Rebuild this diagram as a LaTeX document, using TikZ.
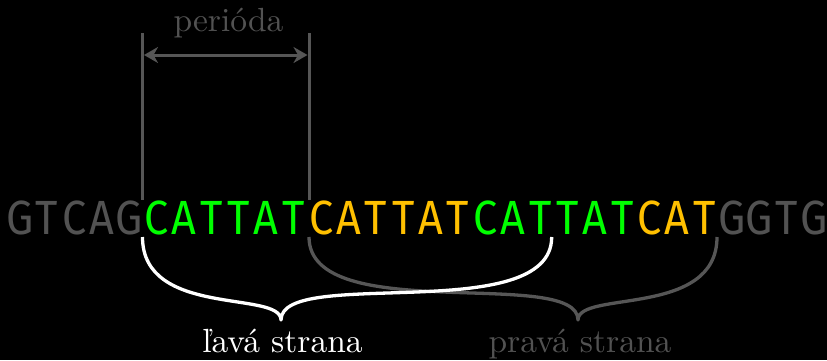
\documentclass[tikz,border=0pt]{standalone}
\usepackage{fontspec}
\newfontfamily\seqfont[FakeStretch=0.9]{Fira Sans}
\usetikzlibrary{arrows.meta}
\definecolor{seqgray}{RGB}{82,82,82}
\definecolor{linegray}{RGB}{86,86,86}
\definecolor{seqgreen}{RGB}{0,255,0}
\definecolor{seqorange}{RGB}{255,192,0}

\begin{document}
\begin{tikzpicture}[x=1pt, y=-1pt,
  seqchar/.style={inner sep=0pt, anchor=base,
    font=\seqfont\fontsize{48}{50}\selectfont},
  lbl/.style={inner sep=0pt, anchor=base, scale=3.35,
    font=\fontsize{10}{12}\selectfont},
  guide/.style={draw=linegray, line width=3pt},
  periodtip/.tip={Stealth[length=14pt, width=16pt, inset=4.5pt]},
  bracepath/.style={line width=3.3pt, line join=round},
]
% canvas
\fill[black] (0,0) rectangle (827,360);
\useasboundingbox (0,0) rectangle (827,360);

% the sequence, one fixed-width cell per base
\def\pitch{27.4}
\def\xstart{6}
\foreach \c/\col [count=\i from 0] in {
  G/seqgray, T/seqgray, C/seqgray, A/seqgray, G/seqgray,
  C/seqgreen, A/seqgreen, T/seqgreen, T/seqgreen, A/seqgreen, T/seqgreen,
  C/seqorange, A/seqorange, T/seqorange, T/seqorange, A/seqorange, T/seqorange,
  C/seqgreen, A/seqgreen, T/seqgreen, T/seqgreen, A/seqgreen, T/seqgreen,
  C/seqorange, A/seqorange, T/seqorange,
  G/seqgray, G/seqgray, T/seqgray, G/seqgray}
  \node[seqchar, text=\col] (b\i) at ({\xstart+(\i+0.5)*\pitch}, 234) {\c};

% period marker
\coordinate (perL) at (142.5,33);
\coordinate (perR) at (309,33);
\coordinate (perLb) at (142.5,200);
\coordinate (perRb) at (309,200);
\coordinate (arrL) at (144,55);
\coordinate (arrR) at (307.5,55);
\draw[guide] (perL) -- (perLb);
\draw[guide] (perR) -- (perRb);
\draw[guide, periodtip-periodtip] (arrL) -- (arrR);
\node[lbl, text=seqgray] (per) at (228.5,31) {perióda};

% right side brace
\coordinate (rA) at (309,237);
\coordinate (rTip) at (578,320);
\coordinate (rB) at (717,237);
\draw[bracepath, linegray]
  (rA) .. controls +(0,90) and +(0,-54) .. (rTip)
       .. controls +(0,-30) and +(0,81) .. (rB);

% left side brace
\coordinate (lA) at (142.5,237);
\coordinate (lTip) at (281,320);
\coordinate (lB) at (551.7,237);
\draw[bracepath, white]
  (lA) .. controls +(0,81) and +(0,-30) .. (lTip)
       .. controls +(0,-54) and +(0,90) .. (lB);

\node[lbl, text=white] (lav) at (282.5,352.5) {ľavá strana};
\node[lbl, text=seqgray] (prav) at (580,352.5) {pravá strana};
\end{tikzpicture}
\end{document}
